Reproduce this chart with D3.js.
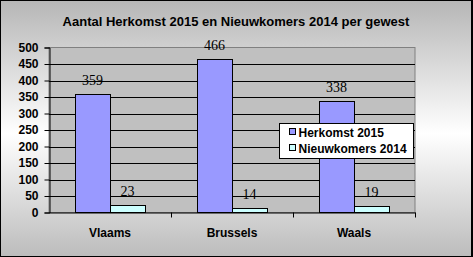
<!DOCTYPE html>
<html>
<head>
<meta charset="utf-8">
<script src="https://cdn.jsdelivr.net/npm/d3@7"></script>
<style>
  body { margin: 0; background: #fff; }
  svg { display: block; }
</style>
</head>
<body>
<div id="chart"></div>
<script>
// chart data
const categories = ['Vlaams', 'Brussels', 'Waals'];
const seriesNames = ['Herkomst 2015', 'Nieuwkomers 2014'];
const herkomst2015 = [359, 466, 338];
const nieuwkomers2014 = [23, 14, 19];
const yTicks = [0, 50, 100, 150, 200, 250, 300, 350, 400, 450, 500];

const W = 473, H = 257;
const colors = ['#9999FF', '#CCFFFF'];

const svg = d3.select('#chart').append('svg')
    .attr('width', W)
    .attr('height', H);

// background gradient (grey - white - grey)
const defs = svg.append('defs');
const grad = defs.append('linearGradient')
    .attr('id', 'bg')
    .attr('x1', 0).attr('y1', 0).attr('x2', 0).attr('y2', 1);
grad.append('stop').attr('offset', '0%').attr('stop-color', '#b6b6b6');
grad.append('stop').attr('offset', '52%').attr('stop-color', '#ffffff');
grad.append('stop').attr('offset', '100%').attr('stop-color', '#bcbcbc');

svg.append('rect')
    .attr('x', 0.5).attr('y', 0.5)
    .attr('width', W - 2).attr('height', H - 1)
    .attr('fill', 'url(#bg)')
    .attr('stroke', '#000');
svg.append('line')
    .attr('x1', W - 0.5).attr('x2', W - 0.5)
    .attr('y1', 0).attr('y2', H)
    .attr('stroke', '#000');

// title
svg.append('text')
    .attr('x', 236)
    .attr('y', 26)
    .attr('text-anchor', 'middle')
    .style('font-family', 'Arial, "Liberation Sans", sans-serif')
    .style('font-weight', 'bold')
    .style('font-size', '13px')
    .text('Aantal Herkomst 2015 en Nieuwkomers 2014 per gewest');

// scales
const plot = {left: 49, right: 415, top: 47.5, bottom: 212.5};

const x0 = d3.scaleBand()
    .domain(categories)
    .range([plot.left, plot.right])
    .padding(0);

const barW = x0.bandwidth() / 3.5; // excel gap width 150%
const x1 = d3.scaleBand()
    .domain(seriesNames)
    .range([barW * 0.75, barW * 2.75]);

const y = d3.scaleLinear()
    .domain([0, 500])
    .range([plot.bottom, plot.top]);

// plot area
svg.append('rect')
    .attr('x', plot.left).attr('y', plot.top)
    .attr('width', plot.right - plot.left)
    .attr('height', plot.bottom - plot.top)
    .attr('fill', '#C0C0C0')
    .attr('stroke', '#808080');

// gridlines
svg.append('g')
    .selectAll('line')
    .data(yTicks.filter(d => d > 0 && d < 500))
    .enter().append('line')
    .attr('x1', plot.left).attr('x2', plot.right)
    .attr('y1', d => Math.round(y(d)) + 0.5)
    .attr('y2', d => Math.round(y(d)) + 0.5)
    .attr('stroke', '#000');

// bars
const rows = categories.map((c, i) => ({cat: c, vals: [herkomst2015[i], nieuwkomers2014[i]]}));

const groups = svg.append('g')
    .selectAll('g')
    .data(rows)
    .enter().append('g')
    .attr('transform', d => `translate(${x0(d.cat)},0)`);

groups.selectAll('rect')
    .data(d => d.vals.map((v, j) => ({name: seriesNames[j], v: v, j: j})))
    .enter().append('rect')
    .attr('x', d => Math.round(x1(d.name)) + 0.5)
    .attr('y', d => Math.round(y(d.v)) + 0.5)
    .attr('width', Math.round(x1.bandwidth()))
    .attr('height', d => Math.round(plot.bottom - 0.5) - Math.round(y(d.v)))
    .attr('fill', d => colors[d.j])
    .attr('stroke', '#000');

// data labels
groups.selectAll('text')
    .data(d => d.vals.map((v, j) => ({name: seriesNames[j], v: v})))
    .enter().append('text')
    .attr('x', d => x1(d.name) + x1.bandwidth() / 2)
    .attr('y', d => y(d.v) - 9)
    .attr('text-anchor', 'middle')
    .style('font-family', '"Times New Roman", "Liberation Serif", serif')
    .style('font-size', '14px')
    .text(d => d.v);

// y axis
const yAxis = d3.axisLeft(y)
    .tickValues(yTicks)
    .tickSize(5)
    .tickPadding(6);
const gy = svg.append('g')
    .attr('transform', `translate(${plot.left + 0.5},0)`)
    .call(yAxis);
gy.select('.domain').attr('stroke', '#000');
gy.selectAll('.tick line').attr('stroke', '#000');
gy.selectAll('.tick text')
    .style('font-family', 'Arial, "Liberation Sans", sans-serif')
    .style('font-weight', 'bold')
    .style('font-size', '12px')
    .attr('fill', '#000');

// x axis
const xAxis = d3.axisBottom(x0)
    .tickSize(0)
    .tickPadding(16);
const gx = svg.append('g')
    .attr('transform', `translate(0,${plot.bottom})`)
    .call(xAxis);
gx.select('.domain').attr('stroke', '#000');
gx.selectAll('.tick text')
    .style('font-family', 'Arial, "Liberation Sans", sans-serif')
    .style('font-weight', 'bold')
    .style('font-size', '12px')
    .attr('fill', '#000');
// category separator ticks
gx.selectAll('.sep')
    .data(categories.slice(1).concat(['end']))
    .enter().append('line')
    .attr('class', 'sep')
    .attr('x1', (d, i) => Math.round(plot.left + x0.bandwidth() * (i + 1)) + 0.5)
    .attr('x2', (d, i) => Math.round(plot.left + x0.bandwidth() * (i + 1)) + 0.5)
    .attr('y1', 0).attr('y2', 5)
    .attr('stroke', '#000');

// legend
const legend = svg.append('g')
    .attr('transform', 'translate(279.5,123.5)');
legend.append('rect')
    .attr('width', 134).attr('height', 35)
    .attr('fill', '#fff')
    .attr('stroke', '#000');
seriesNames.forEach((name, i) => {
    legend.append('rect')
        .attr('x', 10).attr('y', 5 + i * 16)
        .attr('width', 6).attr('height', 6)
        .attr('fill', colors[i])
        .attr('stroke', '#000');
    legend.append('text')
        .attr('x', 19).attr('y', 13 + i * 16)
        .style('font-family', 'Arial, "Liberation Sans", sans-serif')
        .style('font-weight', 'bold')
        .style('font-size', '12px')
        .text(name);
});
</script>
</body>
</html>
